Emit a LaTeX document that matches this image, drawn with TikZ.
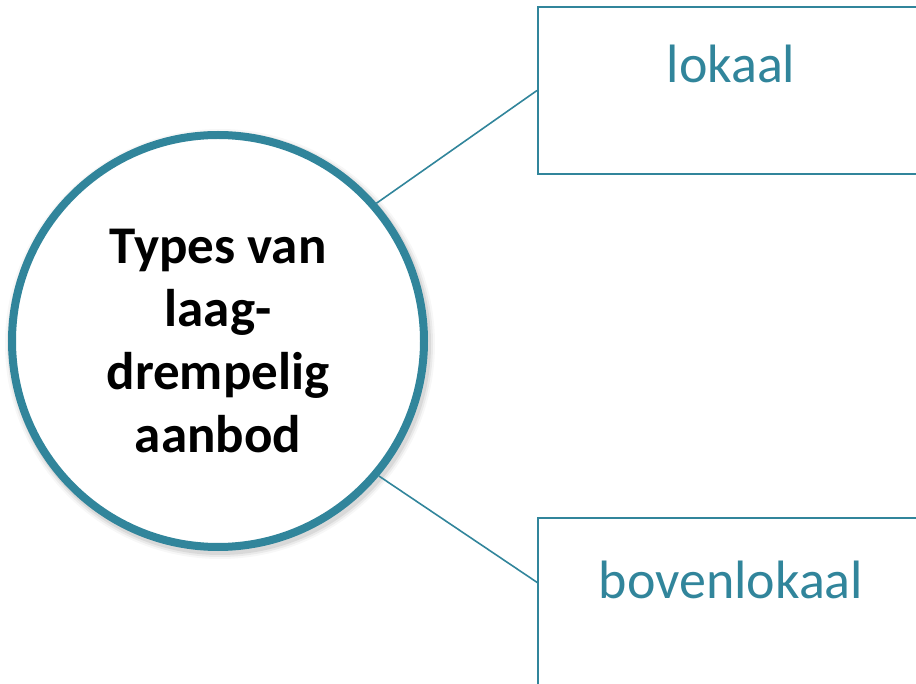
\documentclass[tikz,border=0pt]{standalone}
\usepackage{fontspec}
\setmainfont{Carlito}
\definecolor{teal1}{RGB}{49,133,155}
\begin{document}
\begin{tikzpicture}[x=1pt,y=-1pt,
  hub/.style={circle, draw=teal1, line width=8pt, fill=white, minimum size=412pt, inner sep=0pt,
    align=center, font=\bfseries\fontsize{53}{63}\selectfont, text=black},
  box/.style={rectangle, draw=teal1, line width=2pt, minimum width=386pt, inner sep=0pt},
  lbl/.style={anchor=base, text=teal1, font=\fontsize{54}{62}\selectfont},
  conn/.style={draw=teal1, line width=1.6pt}]
\useasboundingbox (0,0) rectangle (916,684);
\clip (0,0) rectangle (916,684);
% soft shadow
\foreach \r/\o in {215/0.03,213/0.05,211/0.07}
  \fill[black,opacity=\o] (220,344) circle (\r);
\node[box, minimum height=167pt] (top) at (731,90.5) {};
\node[box, minimum height=180pt] (bot) at (731,608) {};
\coordinate (botend) at (538,583);
\node[hub] (c) at (218,341) {Types van\\laag-\\drempelig\\aanbod};
\node[lbl] (l1) at (731,83) {lokaal};
\node[lbl] (l2) at (731,598) {bovenlokaal};
\draw[conn] (c.41) -- (top.west);
\draw[conn] (c.-40) -- (botend);
\end{tikzpicture}
\end{document}
